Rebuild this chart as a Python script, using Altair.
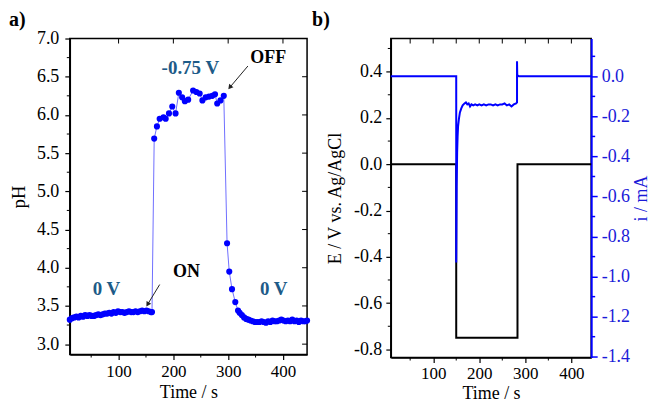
import altair as alt
import pandas as pd

FONT = "Liberation Serif"

# ---------------- panel a: pH vs time ----------------
ph_time = [11, 15, 19, 23, 27, 31, 35, 39, 43, 47, 51, 55, 59, 63, 67, 71, 75, 79, 83, 87,
           91, 95, 99, 103, 107, 111, 115, 119, 123, 127, 131, 135, 139, 143, 147, 151, 155, 159, 161,
           165, 170, 175, 182, 186, 192, 198, 204, 210, 216, 221, 227, 236, 242, 248, 253, 259, 265,
           271, 276, 280, 286, 292,
           298, 302, 307, 313, 318, 321, 325, 329, 333, 337, 341, 345, 349, 353,
           357, 361, 365, 369, 373, 377, 381, 385, 389, 393, 397, 401, 405, 409, 413, 417, 421, 425,
           429, 433, 437, 441, 444]
ph_value = [3.32, 3.34, 3.35, 3.36, 3.35, 3.37, 3.36, 3.38, 3.37, 3.38, 3.37, 3.37, 3.38, 3.39,
            3.38, 3.39, 3.40, 3.40, 3.41, 3.40, 3.42, 3.41, 3.43, 3.42, 3.42, 3.41, 3.42, 3.43,
            3.42, 3.42, 3.43, 3.42, 3.43, 3.44, 3.43, 3.44, 3.43, 3.42, 3.42,
            5.69, 5.85, 5.95, 5.97, 5.95, 6.02, 6.11, 6.02, 6.29, 6.23, 6.18, 6.20, 6.32, 6.30,
            6.28, 6.19, 6.23, 6.24, 6.25, 6.27, 6.15, 6.19, 6.25,
            4.32, 3.95, 3.72, 3.55, 3.44, 3.41, 3.38, 3.35, 3.33, 3.32, 3.31, 3.30, 3.29, 3.29,
            3.29, 3.30, 3.29, 3.28, 3.30, 3.29, 3.31, 3.30, 3.30, 3.31, 3.32, 3.31, 3.30, 3.31,
            3.30, 3.32, 3.30, 3.31, 3.29, 3.31, 3.30, 3.30, 3.31]

a_x_major = [100, 200, 300, 400]
a_x_minor = [50, 150, 250, 350]
a_y_major = [3.0, 3.5, 4.0, 4.5, 5.0, 5.5, 6.0, 6.5, 7.0]
a_y_minor = [3.25, 3.75, 4.25, 4.75, 5.25, 5.75, 6.25, 6.75]

a_labels = ["-0.75 V", "0 V", "0 V"]
a_label_t = [231, 78, 383]
a_label_ph = [6.62, 3.72, 3.72]
a_notes = ["OFF", "ON"]
a_note_t = [373, 224]
a_note_ph = [6.75, 3.95]
arrow_t0 = [336, 175]
arrow_ph0 = [6.64, 3.78]
arrow_t1 = [303, 153]
arrow_ph1 = [6.36, 3.52]
arrow_angle = [219, 212]

# ---------------- panel b: potential and current ----------------
e_time = [8, 150, 150, 283, 283, 443]
e_value = [0.0, 0.0, -0.75, -0.75, 0.0, 0.0]
i_time = [8, 150, 150, 151, 152, 153, 154, 156, 158, 161, 164, 168, 171, 174, 177, 180, 183,
          187, 191, 196, 200, 205, 210, 215, 220, 225, 230, 235, 240, 245, 250, 255, 260, 265,
          270, 275, 280, 282, 282, 282.5, 283, 286, 443]
i_value = [0.0, 0.0, -0.93, -0.55, -0.38, -0.30, -0.25, -0.21, -0.18, -0.16, -0.145, -0.135,
           -0.13, -0.14, -0.135, -0.15, -0.14, -0.145, -0.14, -0.145, -0.14, -0.145, -0.14,
           -0.145, -0.14, -0.14, -0.145, -0.14, -0.145, -0.14, -0.14, -0.135, -0.145, -0.14,
           -0.15, -0.14, -0.135, -0.13, 0.075, 0.005, 0.005, 0.0, 0.0]

b_x_major = [100, 200, 300, 400]
b_x_minor = [50, 150, 250, 350]
b_top_ticks = [50, 100, 150, 200, 250, 300, 350, 400]
b_e_major = [-0.8, -0.6, -0.4, -0.2, 0.0, 0.2, 0.4]
b_e_minor = [-0.7, -0.5, -0.3, -0.1, 0.1, 0.3, 0.5]
b_i_major = [-1.4, -1.2, -1.0, -0.8, -0.6, -0.4, -0.2, 0.0]
b_i_minor = [-1.3, -1.1, -0.9, -0.7, -0.5, -0.3, -0.1, 0.1]

BLUE = "#0000ff"
TEAL = "#1d5b88"
AXBLUE = "#1a1ad8"
HYPHEN = "replace(datum.label, '\\u2212', '-')"

WA, HA = 238, 317
WB, HB = 201, 320

# ---------------- build panel a ----------------
dfa = pd.DataFrame({"t": ph_time, "pH": ph_value, "o": list(range(len(ph_time)))})
xa_scale = alt.Scale(domain=[11, 444], nice=False, zero=False)
ya_scale = alt.Scale(domain=[2.864, 7.0], nice=False, zero=False)
xa_axis = alt.Axis(values=a_x_major, title="Time / s", format="d", grid=False,
                   tickSize=5, labelPadding=4, titlePadding=4, labelFontSize=17)
ya_axis = alt.Axis(values=a_y_major, title="pH", format=".1f", grid=False,
                   tickSize=5, labelPadding=6, titlePadding=8, labelFontSize=18, titleFontSize=19)


def XA():
    return alt.X("t:Q", scale=xa_scale, axis=xa_axis)


def YA():
    return alt.Y("pH:Q", scale=ya_scale, axis=ya_axis)


a_line = alt.Chart(dfa).mark_line(color="#6f6fff", strokeWidth=1).encode(x=XA(), y=YA(), order="o:Q")
a_pts = alt.Chart(dfa).mark_circle(color=BLUE, size=38, opacity=1).encode(x=XA(), y=YA())

a_xminor = alt.Chart(pd.DataFrame({"t": a_x_minor})).mark_rule(color="black", strokeWidth=1).encode(
    x=XA(), y=alt.value(HA), y2=alt.value(HA + 3))
a_top = alt.Chart(pd.DataFrame({"t": a_x_major})).mark_rule(color="black", strokeWidth=1).encode(
    x=XA(), y=alt.value(0), y2=alt.value(5))
a_yminor = alt.Chart(pd.DataFrame({"pH": a_y_minor})).mark_rule(color="black", strokeWidth=1).encode(
    y=YA(), x=alt.value(0), x2=alt.value(-3))
a_right = alt.Chart(pd.DataFrame({"pH": a_y_major})).mark_rule(color="black", strokeWidth=1).encode(
    y=YA(), x=alt.value(WA), x2=alt.value(WA - 5))

df_lab = pd.DataFrame({"txt": a_labels, "t": a_label_t, "pH": a_label_ph})
a_lab = alt.Chart(df_lab).mark_text(font=FONT, fontSize=19, fontWeight="bold", color=TEAL).encode(
    x=XA(), y=YA(), text="txt:N")
df_note = pd.DataFrame({"txt": a_notes, "t": a_note_t, "pH": a_note_ph})
a_note = alt.Chart(df_note).mark_text(font=FONT, fontSize=18, fontWeight="bold", color="black").encode(
    x=XA(), y=YA(), text="txt:N")
df_arr = pd.DataFrame({"t": arrow_t0, "pH": arrow_ph0, "t1": arrow_t1, "p1": arrow_ph1})
a_arr = alt.Chart(df_arr).mark_rule(color="#222222", strokeWidth=1).encode(
    x=XA(), y=YA(), x2="t1:Q", y2="p1:Q")
df_head = pd.DataFrame({"t": arrow_t1, "pH": arrow_ph1, "ang": arrow_angle})
a_head = alt.Chart(df_head).mark_point(shape="triangle-up", filled=True, color="#222222", size=30, opacity=1).encode(
    x=XA(), y=YA(), angle=alt.Angle("ang:Q", scale=None))
a_tag = alt.Chart(pd.DataFrame({"txt": ["a)"]})).mark_text(
    font=FONT, fontSize=20, fontWeight="bold", align="left", baseline="middle", color="black").encode(
    x=alt.value(-61), y=alt.value(-19), text="txt:N")

panel_a = alt.layer(a_line, a_pts, a_xminor, a_top, a_yminor, a_right, a_lab, a_note, a_arr, a_head, a_tag
                    ).properties(width=WA, height=HA)

# ---------------- build panel b ----------------
dfe = pd.DataFrame({"t": e_time, "E": e_value, "o": list(range(len(e_time)))})
dfi = pd.DataFrame({"t": i_time, "I": i_value, "o": list(range(len(i_time)))})
xb_scale = alt.Scale(domain=[8, 443], nice=False, zero=False)
ye_scale = alt.Scale(domain=[-0.835, 0.543], nice=False, zero=False)
yi_scale = alt.Scale(domain=[-1.404, 0.189], nice=False, zero=False)
xb_axis = alt.Axis(values=b_x_major, title="Time / s", format="d", grid=False,
                   tickSize=5, labelPadding=3, titlePadding=3, labelFontSize=17)
ye_axis = alt.Axis(values=b_e_major, title="E / V vs. Ag/AgCl", format=".1f", grid=False,
                   tickSize=5, labelPadding=4, titlePadding=9, labelFontSize=18, labelExpr=HYPHEN)
yi_axis = alt.Axis(values=b_i_major, title="i / mA", format=".1f", grid=False, orient="right",
                   tickSize=6, labelPadding=4, titlePadding=3, titleAngle=270, titleBaseline="top",
                   labelFontSize=18, labelExpr=HYPHEN,
                   domainColor=BLUE, domainWidth=2, tickColor=BLUE, tickWidth=1.5,
                   labelColor=AXBLUE, titleColor=AXBLUE)


def XB():
    return alt.X("t:Q", scale=xb_scale, axis=xb_axis)


def YE():
    return alt.Y("E:Q", scale=ye_scale, axis=ye_axis)


def YI():
    return alt.Y("I:Q", scale=yi_scale, axis=yi_axis)


e_line = alt.Chart(dfe).mark_line(color="black", strokeWidth=2).encode(x=XB(), y=YE(), order="o:Q")
b_xminor = alt.Chart(pd.DataFrame({"t": b_x_minor})).mark_rule(color="black", strokeWidth=1).encode(
    x=XB(), y=alt.value(HB), y2=alt.value(HB + 3))
b_top = alt.Chart(pd.DataFrame({"t": b_top_ticks})).mark_rule(color="black", strokeWidth=1).encode(
    x=XB(), y=alt.value(0), y2=alt.value(5))
b_eminor = alt.Chart(pd.DataFrame({"E": b_e_minor})).mark_rule(color="black", strokeWidth=1).encode(
    y=YE(), x=alt.value(0), x2=alt.value(-3))
b_tag = alt.Chart(pd.DataFrame({"txt": ["b)"]})).mark_text(
    font=FONT, fontSize=20, fontWeight="bold", align="left", baseline="middle", color="black").encode(
    x=alt.value(-79), y=alt.value(-19), text="txt:N")
left_b = alt.layer(e_line, b_xminor, b_top, b_eminor, b_tag)

i_line = alt.Chart(dfi).mark_line(color=BLUE, strokeWidth=2).encode(x=XB(), y=YI(), order="o:Q")
b_iminor = alt.Chart(pd.DataFrame({"I": b_i_minor})).mark_rule(color=BLUE, strokeWidth=1.5).encode(
    y=YI(), x=alt.value(WB), x2=alt.value(WB + 4))
right_b = alt.layer(i_line, b_iminor)

panel_b = alt.layer(left_b, right_b).resolve_scale(y="independent").properties(width=WB, height=HB)

chart = alt.hconcat(panel_a, panel_b, spacing=0).properties(
    padding={"left": 0, "top": 0, "right": 0, "bottom": 0}, background="white"
).configure(
    view=alt.ViewConfig(stroke="black", strokeWidth=1.5),
    axis=alt.AxisConfig(
        labelFont=FONT, titleFont=FONT, labelFontSize=17, titleFontSize=18, titleFontWeight="normal",
        labelColor="black", titleColor="black", domainColor="black", tickColor="black",
        domainWidth=1.5, tickWidth=1.2),
)

chart.save("out.html", embed_options={"renderer": "svg", "actions": False})
